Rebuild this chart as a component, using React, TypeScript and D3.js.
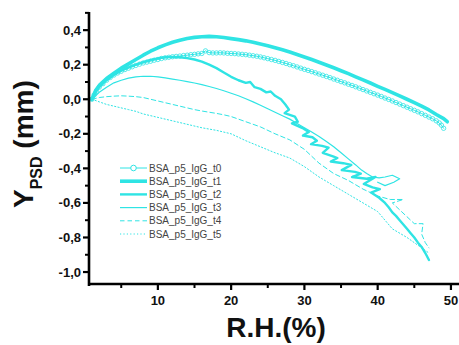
import React from "react";
import * as d3 from "d3";

type P = [number, number];

const seriesNames = ["BSA_p5_IgG_t0", "BSA_p5_IgG_t1", "BSA_p5_IgG_t2", "BSA_p5_IgG_t3", "BSA_p5_IgG_t4", "BSA_p5_IgG_t5"];

const t0: P[] = [
  [1, 0], [1.3, 0.025], [1.6, 0.045], [2, 0.07], [2.5, 0.09], [3, 0.11], [3.5, 0.126], [4, 0.14], [4.5, 0.152],
  [5, 0.162], [5.5, 0.172], [6, 0.18], [6.5, 0.188], [7, 0.196], [7.5, 0.203], [8, 0.21], [8.5, 0.215], [9, 0.22],
  [9.5, 0.226], [10, 0.23], [10.5, 0.236], [11, 0.24], [11.5, 0.243], [12, 0.246], [12.5, 0.248], [13, 0.25],
  [13.5, 0.253], [14, 0.255], [14.5, 0.258], [15, 0.26], [15.5, 0.263], [16, 0.265], [16.5, 0.28], [17, 0.27],
  [17.5, 0.268], [18, 0.268], [18.5, 0.269], [19, 0.268], [19.5, 0.266], [20, 0.265], [20.5, 0.264], [21, 0.262],
  [21.5, 0.26], [22, 0.258], [22.5, 0.255], [23, 0.252], [23.5, 0.249], [24, 0.245], [24.5, 0.24], [25, 0.235],
  [25.5, 0.23], [26, 0.225], [26.5, 0.219], [27, 0.213], [27.5, 0.207], [28, 0.2], [28.5, 0.194], [29, 0.187],
  [29.5, 0.18], [30, 0.173], [30.5, 0.167], [31, 0.16], [31.5, 0.153], [32, 0.146], [32.5, 0.139], [33, 0.132],
  [33.5, 0.125], [34, 0.117], [34.5, 0.11], [35, 0.102], [35.5, 0.095], [36, 0.087], [36.5, 0.08], [37, 0.072],
  [37.5, 0.064], [38, 0.056], [38.5, 0.048], [39, 0.04], [39.5, 0.032], [40, 0.024], [40.5, 0.016], [41, 0.007],
  [41.5, -0.001], [42, -0.01], [42.5, -0.019], [43, -0.028], [43.5, -0.037], [44, -0.046], [44.5, -0.055],
  [45, -0.064], [45.5, -0.073], [46, -0.083], [46.5, -0.093], [47, -0.103], [47.5, -0.113], [48, -0.125],
  [48.4, -0.137], [48.7, -0.15], [49, -0.168],
];

const t1: P[] = [
  [1, 0], [1.5, 0.05], [2, 0.08], [3, 0.12], [4, 0.15], [5, 0.18], [6, 0.205], [7, 0.23], [8, 0.255], [9, 0.278],
  [10, 0.298], [11, 0.315], [12, 0.33], [13, 0.342], [14, 0.352], [15, 0.358], [16, 0.362], [17, 0.364], [18, 0.362],
  [19, 0.357], [20, 0.351], [21, 0.345], [22, 0.338], [23, 0.33], [24, 0.32], [25, 0.31], [26, 0.298], [27, 0.286],
  [28, 0.273], [29, 0.259], [30, 0.245], [31, 0.23], [32, 0.214], [33, 0.198], [34, 0.182], [35, 0.165],
  [36, 0.148], [37, 0.13], [38, 0.112], [39, 0.094], [40, 0.075], [41, 0.057], [42, 0.038], [43, 0.019],
  [44, 0.0], [45, -0.02], [46, -0.04], [47, -0.062], [48, -0.088], [49, -0.112], [49.5, -0.13],
];

const t2: P[] = [
  [1, 0], [1.5, 0.04], [2, 0.07], [3, 0.11], [4, 0.14], [5, 0.165], [6, 0.185], [7, 0.2], [8, 0.215], [9, 0.228],
  [10, 0.237], [11, 0.243], [12, 0.245], [13, 0.243], [14, 0.238], [15, 0.23], [16, 0.218], [17, 0.2], [18, 0.18],
  [19, 0.155], [20, 0.13], [21, 0.11], [22, 0.095], [22.6, 0.1], [23.2, 0.07], [24, 0.06], [24.8, 0.04],
  [25.4, 0.045], [26, 0.02], [26.8, 0.0], [27.4, -0.03], [27.9, -0.06], [27.3, -0.08], [28.7, -0.1],
  [29.1, -0.13], [28.3, -0.14], [29.9, -0.17], [30.6, -0.19], [29.8, -0.21], [31.1, -0.22], [31.7, -0.24],
  [30.9, -0.26], [32.4, -0.27], [33.3, -0.28], [32.5, -0.31], [33.9, -0.33], [34.5, -0.34], [33.6, -0.36],
  [35.3, -0.37], [36.4, -0.38], [35.1, -0.41], [36.9, -0.42], [37.7, -0.43], [36.5, -0.45], [38.5, -0.46],
  [39.7, -0.45], [38.1, -0.49], [39.3, -0.51], [40.3, -0.52], [39.1, -0.54], [40.2, -0.57], [41, -0.6],
  [41.5, -0.625], [42, -0.655], [42.5, -0.675], [43, -0.7], [43.5, -0.725], [44, -0.75], [44.5, -0.775],
  [45, -0.8], [45.5, -0.83], [46, -0.855], [46.5, -0.89], [47, -0.93],
];

const t3: P[] = [
  [1, 0], [1.5, 0.02], [2, 0.04], [3, 0.07], [4, 0.095], [5, 0.11], [6, 0.122], [7, 0.13], [8, 0.133], [9, 0.133],
  [10, 0.13], [11, 0.124], [12, 0.117], [13, 0.11], [14, 0.102], [15, 0.094], [16, 0.085], [17, 0.074], [18, 0.062],
  [19, 0.049], [20, 0.035], [21, 0.02], [22, 0.003], [23, -0.015], [24, -0.035], [25, -0.055], [26, -0.075],
  [27, -0.095], [28, -0.115], [29, -0.14], [30, -0.165], [31, -0.19], [32, -0.215], [33, -0.245], [34, -0.275],
  [35, -0.31], [36, -0.345], [37, -0.38], [37.8, -0.41], [38.5, -0.43], [39.3, -0.45], [40.2, -0.455], [41, -0.45],
  [42, -0.44], [43, -0.46], [42.2, -0.48], [41, -0.5], [40, -0.48],
];

const t4: P[] = [
  [1, 0], [2, 0.01], [3, 0.015], [4, 0.018], [5, 0.02], [6, 0.018], [7, 0.015], [8, 0.01], [9, 0.0], [10, -0.01],
  [11, -0.02], [12, -0.03], [13, -0.04], [14, -0.05], [15, -0.06], [16, -0.068], [17, -0.075], [18, -0.082],
  [19, -0.09], [20, -0.1], [22, -0.13], [24, -0.16], [26, -0.2], [28, -0.235], [30, -0.29], [32, -0.37],
  [34, -0.43], [36, -0.47], [38, -0.52], [40, -0.56], [41.7, -0.58], [43.5, -0.58], [42, -0.6], [43, -0.64],
  [44, -0.68], [45, -0.72], [46.2, -0.72], [46, -0.78], [46.5, -0.83], [47, -0.86],
];

const t5: P[] = [
  [1, 0], [2, -0.015], [3, -0.03], [4, -0.04], [5, -0.05], [6, -0.06], [7, -0.07], [8, -0.085], [9, -0.095],
  [10, -0.105], [11, -0.115], [12, -0.125], [14, -0.145], [16, -0.165], [18, -0.18], [20, -0.2], [22, -0.24],
  [24, -0.275], [26, -0.31], [28, -0.34], [30, -0.39], [32, -0.45], [34, -0.5], [36, -0.55], [38, -0.6],
  [40, -0.65], [42, -0.75], [44, -0.8], [46, -0.86], [47, -0.89],
];

const xMajorTicks = [10, 20, 30, 40, 50];
const xMinorTicks = [5, 15, 25, 35, 45];
const yMajorTicks = [0.4, 0.2, 0.0, -0.2, -0.4, -0.6, -0.8, -1.0];
const yMinorTicks = [0.5, 0.3, 0.1, -0.1, -0.3, -0.5, -0.7, -0.9];

const CYAN = "#2fe4e4";
const FONT = "'Liberation Sans', Arial, Helvetica, sans-serif";

const styles = [
  { width: 1, dash: "" },
  { width: 3.6, dash: "" },
  { width: 2.4, dash: "" },
  { width: 1.2, dash: "" },
  { width: 1, dash: "4.5,3" },
  { width: 1, dash: "1.2,2.2" },
];

export default function App() {
  const W = 459, H = 345;
  const x = d3.scaleLinear().domain([0.6, 51.1]).range([89, 459]);
  const y = d3.scaleLinear().domain([-1.075, 0.505]).range([285, 12]);
  const line = d3.line<P>().x((d) => x(d[0])).y((d) => y(d[1])).curve(d3.curveLinear);
  const all = [t0, t1, t2, t3, t4, t5];
  const fmt = (v: number) => d3.format(".1f")(v).replace(".", ",").replace("−", "-");
  const x0 = x.range()[0];
  const yb = y.range()[0];
  const legendY = d3.scaleLinear().domain([0, 5]).range([168, 234]);

  return (
    <svg width={W} height={H} style={{ position: "absolute", left: 0, top: 0, background: "#fff" }}>
      <rect width={W} height={H} fill="#fff" />
      {all.map((s, i) => (
        <path key={i} d={line(s) || ""} fill="none" stroke={CYAN} strokeWidth={styles[i].width}
          strokeDasharray={styles[i].dash || undefined} strokeLinejoin="round" strokeLinecap="round" />
      ))}
      {t0.map((d, i) => (
        <circle key={i} cx={x(d[0])} cy={y(d[1])} r={2.2} fill="none" stroke={CYAN} strokeWidth={0.8} />
      ))}
      {/* axes */}
      <line x1={x0} x2={x0} y1={12} y2={yb + 1} stroke="#000" strokeWidth={2.6} />
      <line x1={x0 - 1} x2={459} y1={yb - 1} y2={yb - 1} stroke="#000" strokeWidth={2.6} />
      {yMajorTicks.map((t) => (
        <g key={t}>
          <line x1={x0 - 6} x2={x0} y1={y(t)} y2={y(t)} stroke="#000" strokeWidth={2.2} />
          <text x={x0 - 8} y={y(t) + 4.5} textAnchor="end" fontFamily={FONT} fontWeight="bold" fontSize={13} fill="#111">
            {fmt(t)}
          </text>
        </g>
      ))}
      {yMinorTicks.map((t) => (
        <line key={t} x1={x0 - 4} x2={x0} y1={y(t)} y2={y(t)} stroke="#000" strokeWidth={2} />
      ))}
      {xMajorTicks.map((t) => (
        <g key={t}>
          <line x1={x(t)} x2={x(t)} y1={yb - 1} y2={yb + 5} stroke="#000" strokeWidth={2.2} />
          <text x={x(t)} y={yb + 20} textAnchor="middle" fontFamily={FONT} fontWeight="bold" fontSize={13} fill="#111">
            {t}
          </text>
        </g>
      ))}
      {xMinorTicks.map((t) => (
        <line key={t} x1={x(t)} x2={x(t)} y1={yb - 1} y2={yb + 3} stroke="#000" strokeWidth={2} />
      ))}
      {/* axis titles */}
      <text x={276} y={337} textAnchor="middle" fontFamily={FONT} fontWeight="bold" fontSize={28} fill="#111">
        R.H.(%)
      </text>
      <text transform="translate(33,208) rotate(-90)" fontFamily={FONT} fontWeight="bold" fontSize={28} fill="#111">
        <tspan>Y</tspan>
        <tspan fontSize={16} dy={9}>PSD</tspan>
        <tspan dy={-9}> (mm)</tspan>
      </text>
      {/* legend */}
      {seriesNames.map((n, i) => (
        <g key={n}>
          <line x1={120} x2={147} y1={legendY(i)} y2={legendY(i)} stroke={CYAN} strokeWidth={styles[i].width}
            strokeDasharray={styles[i].dash || undefined} />
          {i === 0 && <circle cx={133.5} cy={legendY(i)} r={2.8} fill="#fff" stroke={CYAN} strokeWidth={1} />}
          <text x={149} y={legendY(i) + 3.6} fontFamily={FONT} fontSize={10} fill="#444">{n}</text>
        </g>
      ))}
    </svg>
  );
}
